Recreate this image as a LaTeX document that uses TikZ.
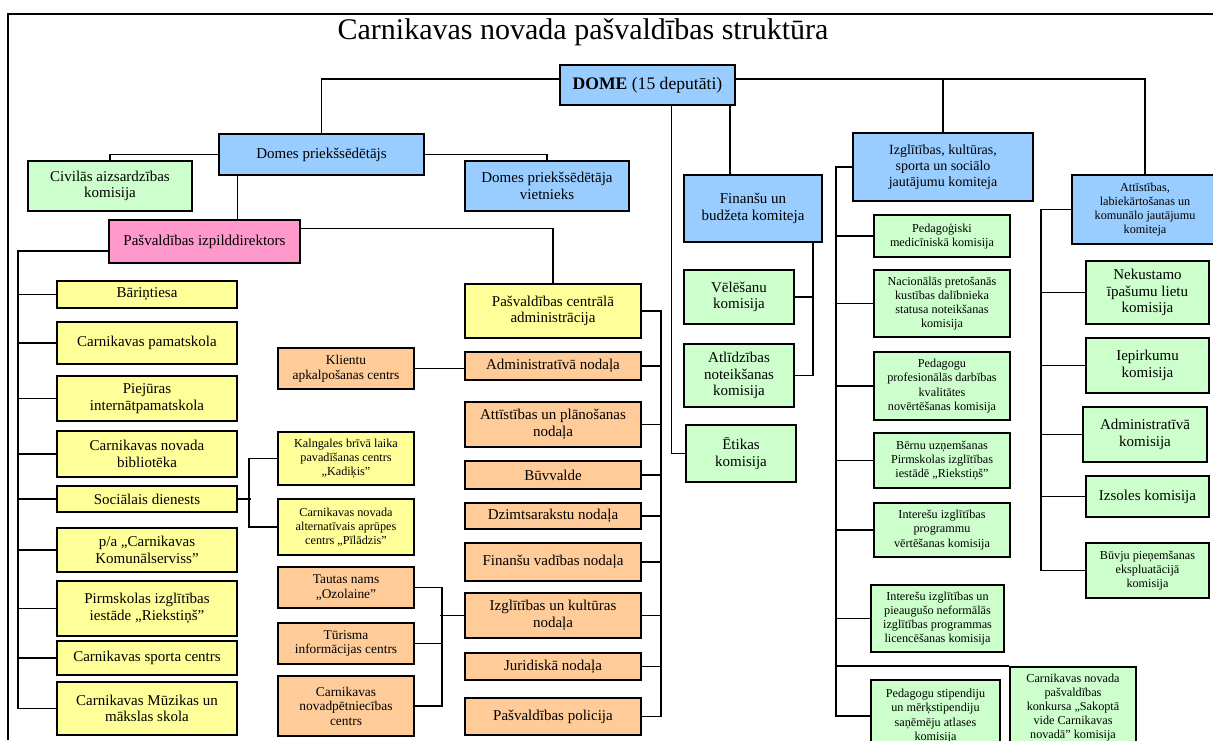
\documentclass[tikz,border=0pt]{standalone}
\usepackage{fontspec}
\setmainfont{Liberation Serif}
\definecolor{blu}{RGB}{153,204,255}
\definecolor{grn}{RGB}{204,255,204}
\definecolor{yel}{RGB}{255,255,153}
\definecolor{ora}{RGB}{255,204,153}
\definecolor{pnk}{RGB}{255,153,204}
\begin{document}
\begin{tikzpicture}[x=0.5pt,y=-0.5pt]
    \tikzstyle{box}=[draw=black, line width=0.8pt, align=center, inner sep=1pt, font=\fontsize{7.5}{8.3}\selectfont]
    \tikzstyle{bluebox}=[box, fill=blu]
    \tikzstyle{greenbox}=[box, fill=grn]
    \tikzstyle{yelbox}=[box, fill=yel]
    \tikzstyle{orbox}=[box, fill=ora]
    \tikzstyle{pinkbox}=[box, fill=pnk]
    \tikzstyle{sm}=[font=\fontsize{6.7}{7.3}\selectfont]
    \tikzstyle{xs}=[font=\fontsize{6.1}{7.1}\selectfont]
    \tikzstyle{link}=[draw=black, line width=0.75pt]
    \tikzset{wh/.style 2 args={minimum width=#1*0.5pt, minimum height=#2*0.5pt}}

    \useasboundingbox (0,0) rectangle (1213,740);
    \draw[line width=1.2pt] (8,740) -- (8,14) -- (1213,14);

    \node[font=\fontsize{15}{18}\selectfont] (title) at (583,32) {Carnikavas novada pašvaldības struktūra};

    \node[bluebox, wh={175}{40}, font=\fontsize{8.8}{10}\selectfont] (dome) at (647.5,85) {\textbf{DOME} (15 deputāti)};
    \node[bluebox, wh={205}{41}] (dp)  at (321.5,154.5) {Domes priekšsēdētājs};
    \node[greenbox, wh={164}{50}] (civ) at (110,186)   {Civilās aizsardzības\\komisija};
    \node[bluebox, wh={164}{50}]  (dpv) at (547,186)   {Domes priekšsēdētāja\\vietnieks};
    \node[pinkbox, wh={191}{43}]  (izp) at (204.5,241.5) {Pašvaldības izpilddirektors};

    \node[yelbox, wh={180}{27}] (bar) at (147,294.5) {Bāriņtiesa};
    \node[yelbox, wh={180}{42}] (pam) at (147,343)   {Carnikavas pamatskola};
    \node[yelbox, wh={180}{45}] (pie) at (147,398.5) {Piejūras\\internātpamatskola};
    \node[yelbox, wh={180}{46}] (bib) at (147,454)   {Carnikavas novada\\bibliotēka};
    \node[yelbox, wh={180}{26}] (soc) at (147,499)   {Sociālais dienests};
    \node[yelbox, wh={180}{44}] (kom) at (147,550)   {p/a „Carnikavas\\Komunālserviss”};
    \node[yelbox, wh={180}{55}] (rie) at (147,608.5) {Pirmskolas izglītības\\iestāde „Riekstiņš”};
    \node[yelbox, wh={180}{34}] (spo) at (147,658)   {Carnikavas sporta centrs};
    \node[yelbox, wh={180}{53}] (muz) at (147,708.5) {Carnikavas Mūzikas un\\mākslas skola};

    \node[orbox, sm, wh={136}{41}]  (kac) at (346,368.5) {Klientu\\apkalpošanas centrs};
    \node[yelbox, xs, wh={136}{53}] (kad) at (346,458.5) {Kalngales brīvā laika\\pavadīšanas centrs\\„Kadiķis”};
    \node[yelbox, xs, wh={136}{56}] (pil) at (346,527)   {Carnikavas novada\\alternatīvais aprūpes\\centrs „Pīlādzis”};
    \node[orbox, sm, wh={136}{41}]  (oz)  at (346,587.5) {Tautas nams\\„Ozolaine”};
    \node[orbox, sm, wh={136}{41}]  (tic) at (346,643.5) {Tūrisma\\informācijas centrs};
    \node[orbox, sm, wh={136}{60}]  (npc) at (346,706)   {Carnikavas\\novadpētniecības\\centrs};

    \node[yelbox, wh={176}{54}] (cad) at (553,311)   {Pašvaldības centrālā\\administrācija};
    \node[orbox, wh={176}{28}]  (adn) at (553,366)   {Administratīvā nodaļa};
    \node[orbox, wh={176}{45}]  (apn) at (553,424.5) {Attīstības un plānošanas\\nodaļa};
    \node[orbox, wh={176}{28}]  (buv) at (553,475)   {Būvvalde};
    \node[orbox, wh={176}{26}]  (dzn) at (553,516)   {Dzimtsarakstu nodaļa};
    \node[orbox, wh={176}{38}]  (fvn) at (553,562)   {Finanšu vadības nodaļa};
    \node[orbox, wh={176}{45}]  (ikn) at (553,615.5) {Izglītības un kultūras\\nodaļa};
    \node[orbox, wh={176}{27}]  (jur) at (553,666.5) {Juridiskā nodaļa};
    \node[orbox, wh={176}{37}]  (pol) at (553,716.5) {Pašvaldības policija};

    \node[bluebox, wh={138}{67}]  (fbk) at (753,208.5) {Finanšu un\\budžeta komiteja};
    \node[greenbox, wh={110}{54}] (vel) at (739,297)   {Vēlēšanu\\komisija};
    \node[greenbox, wh={110}{63}] (atl) at (739,375.5) {Atlīdzības\\noteikšanas\\komisija};
    \node[greenbox, wh={110}{57}] (eti) at (741,453.5) {Ētikas\\komisija};

    \node[bluebox, wh={180}{68}, font=\fontsize{7}{8}\selectfont] (iks) at (943,167) {Izglītības, kultūras,\\sporta un sociālo\\jautājumu komiteja};
    \node[greenbox, xs, wh={136}{42}] (pmk) at (942,236)   {Pedagoģiski\\medicīniskā komisija};
    \node[greenbox, xs, wh={136}{67}] (npk) at (942,303.5) {Nacionālās pretošanās\\kustības dalībnieka\\statusa noteikšanas\\komisija};
    \node[greenbox, xs, wh={136}{68}] (pdk) at (942,386)   {Pedagogu\\profesionālās darbības\\kvalitātes\\novērtēšanas komisija};
    \node[greenbox, xs, wh={136}{55}] (bui) at (942,460.5) {Bērnu uzņemšanas\\Pirmskolas izglītības\\iestādē „Riekstiņš”};
    \node[greenbox, xs, wh={136}{54}] (iiv) at (942,530)   {Interešu izglītības\\programmu\\vērtēšanas komisija};
    \node[greenbox, xs, wh={133}{67}] (iil) at (937.5,618.5) {Interešu izglītības un\\pieaugušo neformālās\\izglītības programmas\\licencēšanas komisija};
    \node[greenbox, xs, wh={129}{72}] (psk) at (935.5,716) {Pedagogu stipendiju\\un mērķstipendiju\\saņēmēju atlases\\komisija};
    \node[greenbox, xs, wh={126}{81}] (kon) at (1073,707.5) {Carnikavas novada\\pašvaldības\\konkursa „Sakoptā\\vide Carnikavas\\novadā” komisija};

    \node[bluebox, xs, wh={146}{69}] (atk) at (1145,209.5) {Attīstības,\\labiekārtošanas un\\komunālo jautājumu\\komiteja};
    \node[greenbox, wh={123}{63}]     (nil) at (1147.5,292.5) {Nekustamo\\īpašumu lietu\\komisija};
    \node[greenbox, wh={123}{55}]     (iep) at (1147.5,365.5) {Iepirkumu\\komisija};
    \node[greenbox, wh={124}{55}]     (adk) at (1145,434.5)   {Administratīvā\\komisija};
    \node[greenbox, wh={123}{41}]     (izs) at (1147.5,496.5) {Izsoles komisija};
    \node[greenbox, xs, wh={123}{55}] (bpe) at (1147.5,570.5) {Būvju pieņemšanas\\ekspluatācijā\\komisija};

    \draw[link] ([yshift=3pt]dome.west) -| (dp.north)
                ([yshift=3pt]dome.east) -| (atk.north)
                ([yshift=3pt]dome.east -| iks.north) -- (iks.north)
                ([xshift=-3pt]dome.south east) -- ([xshift=-3pt]dome.south east |- fbk.north)
                ([xshift=12pt]dome.south) |- (eti.west);
    \draw[link] (dp.west) -| (civ.north)
                (dp.east) -| (dpv.north)
                ([xshift=-42pt]dp.south) -- ([xshift=-42pt]dp.south |- izp.north)
                ([yshift=6.5pt]izp.east) -| (cad.north);

    \coordinate (lbus) at (18,251);
    \draw[link] (izp.west |- lbus) -- (lbus) |- (muz.west);
    \foreach \n in {bar,pam,pie,bib,soc,kom,rie,spo}
        \draw[link] (lbus |- \n.west) -- (\n.west);

    \draw[link] (soc.east) -- ++(13,0)
                (kad.west) -- ++(-28,0) |- (pil.west)
                (kac.east) -- (kac.east -| adn.west)
                (oz.east) -- ++(27,0) |- (npc.east)
                (tic.east) -- ++(27,0)
                (ikn.west) -- ++(-24,0);

    \draw[link] (cad.east) -- ++(19,0) |- (pol.east);
    \foreach \n in {adn,apn,buv,dzn,fvn,ikn,jur}
        \draw[link] (\n.east) -- ++(19,0);

    \draw[link] ([xshift=-5pt]fbk.south east) |- (atl.east)
                (vel.east) -- ++(18,0);

    \draw[link] (iks.west) -- ++(-16,0) coordinate (ibus) |- (psk.west);
    \foreach \n in {pmk,npk,pdk,bui,iiv,iil}
        \draw[link] (ibus |- \n.west) -- (\n.west);
    \draw[link] (ibus |- kon.north) -- (kon.north west);

    \draw[link] (atk.west) -- ++(-30,0) coordinate (abus) |- (bpe.west);
    \foreach \n in {nil,iep,adk,izs}
        \draw[link] (abus |- \n.west) -- (\n.west);
\end{tikzpicture}
\end{document}
